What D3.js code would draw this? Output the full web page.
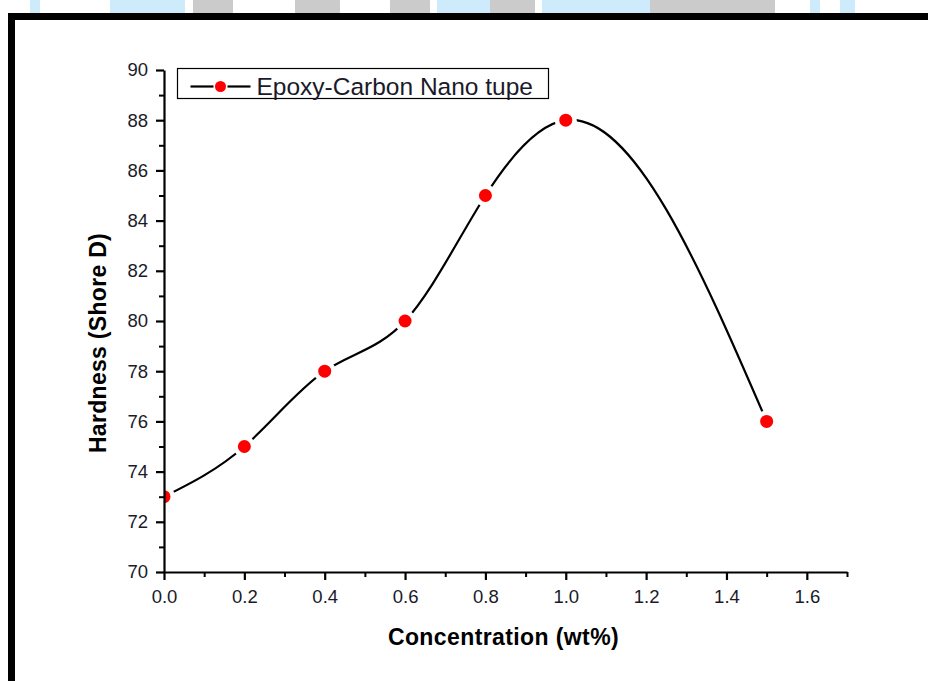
<!DOCTYPE html>
<html>
<head>
<meta charset="utf-8">
<script src="https://cdn.jsdelivr.net/npm/d3@7"></script>
<style>
  body { margin: 0; background: #fff; }
  svg text { font-family: "Liberation Sans", Arial, sans-serif; }
</style>
</head>
<body>
<div id="chart"></div>
<script>
// data
const concentration = [0, 0.2, 0.4, 0.6, 0.8, 1.0, 1.5];
const hardness = [73, 75, 78, 80, 85, 88, 76];
const seriesName = "Epoxy-Carbon Nano tupe";
const xTicks = [0, 0.2, 0.4, 0.6, 0.8, 1.0, 1.2, 1.4, 1.6];
const yTicks = [70, 72, 74, 76, 78, 80, 82, 84, 86, 88, 90];

const svgWidth = 928;
const svgHeight = 681;

const margin = { top: 70, right: 81, bottom: 109, left: 164 };
const width = svgWidth - margin.left - margin.right;
const height = svgHeight - margin.top - margin.bottom;

// natural cubic spline in x (like Origin's "Spline" connect), drawn as beziers
function curveSplineX(context) {
  let xs, ys;
  return {
    areaStart() {}, areaEnd() {},
    lineStart() { xs = []; ys = []; },
    point(x, y) { xs.push(+x); ys.push(+y); },
    lineEnd() {
      const n = xs.length - 1;
      if (n < 1) return;
      const h = d3.range(n).map(i => xs[i + 1] - xs[i]);
      // solve for second derivatives, M0 = Mn = 0
      const M = new Array(n + 1).fill(0);
      if (n > 1) {
        const a = [], b = [], c = [], r = [];
        for (let i = 1; i < n; i++) {
          a.push(h[i - 1]);
          b.push(2 * (h[i - 1] + h[i]));
          c.push(h[i]);
          r.push(6 * ((ys[i + 1] - ys[i]) / h[i] - (ys[i] - ys[i - 1]) / h[i - 1]));
        }
        const m = b.length;
        for (let i = 1; i < m; i++) {
          const w = a[i] / b[i - 1];
          b[i] -= w * c[i - 1];
          r[i] -= w * r[i - 1];
        }
        const sol = new Array(m);
        sol[m - 1] = r[m - 1] / b[m - 1];
        for (let i = m - 2; i >= 0; i--) sol[i] = (r[i] - c[i] * sol[i + 1]) / b[i];
        for (let i = 1; i < n; i++) M[i] = sol[i - 1];
      }
      const slope = d3.range(n + 1).map(i => i < n
        ? (ys[i + 1] - ys[i]) / h[i] - h[i] * (2 * M[i] + M[i + 1]) / 6
        : (ys[n] - ys[n - 1]) / h[n - 1] + h[n - 1] * (M[n - 1] + 2 * M[n]) / 6);
      context.moveTo(xs[0], ys[0]);
      for (let i = 0; i < n; i++) {
        const d = h[i] / 3;
        context.bezierCurveTo(xs[i] + d, ys[i] + slope[i] * d,
          xs[i + 1] - d, ys[i + 1] - slope[i + 1] * d,
          xs[i + 1], ys[i + 1]);
      }
    }
  };
}

const svg = d3.select("#chart")
  .append("svg")
  .attr("width", svgWidth)
  .attr("height", svgHeight);

// watermark strip above the frame (rough)
const strip = [
  [0, 30, "#fff"], [30, 40, "#cdebfb"], [40, 110, "#fff"], [110, 185, "#cdebfb"],
  [185, 193, "#fff"], [193, 233, "#cbcbcb"], [233, 295, "#fff"], [295, 340, "#cbcbcb"],
  [340, 390, "#fff"], [390, 430, "#cbcbcb"], [430, 437, "#fff"], [437, 490, "#cdebfb"],
  [490, 535, "#cbcbcb"], [535, 542, "#fff"], [542, 650, "#cdebfb"], [650, 775, "#cbcbcb"],
  [775, 810, "#fff"], [810, 820, "#cdebfb"], [820, 840, "#fff"], [840, 855, "#cdebfb"],
  [855, 928, "#fff"]
];
svg.selectAll("rect.strip")
  .data(strip)
  .enter().append("rect")
  .attr("class", "strip")
  .attr("x", d => d[0]).attr("y", 0)
  .attr("width", d => d[1] - d[0]).attr("height", 14)
  .attr("fill", d => d[2]);

// black frame
svg.append("rect")
  .attr("x", 11.5).attr("y", 16.5)
  .attr("width", 940).attr("height", 700)
  .attr("fill", "#fff")
  .attr("stroke", "#000")
  .attr("stroke-width", 7);

const chartGroup = svg.append("g")
  .attr("transform", `translate(${margin.left}, ${margin.top})`);

const xLinearScale = d3.scaleLinear().domain([0, 1.7]).range([0, width]);
const yLinearScale = d3.scaleLinear().domain([70, 90]).range([height, 0]);

const points = concentration.map((c, i) => ({ x: c, y: hardness[i] }));

chartGroup.append("clipPath").attr("id", "plotClip")
  .append("rect").attr("x", 0).attr("y", -10).attr("width", width).attr("height", height + 10);

const plot = chartGroup.append("g").attr("clip-path", "url(#plotClip)");

const line = d3.line()
  .x(d => xLinearScale(d.x))
  .y(d => yLinearScale(d.y))
  .curve(curveSplineX);

plot.append("path")
  .datum(points)
  .attr("d", line)
  .attr("fill", "none")
  .attr("stroke", "#000")
  .attr("stroke-width", 2.2);

// gaps in the line around the symbols
plot.selectAll("circle.gap")
  .data(points)
  .enter().append("circle")
  .attr("class", "gap")
  .attr("cx", d => xLinearScale(d.x))
  .attr("cy", d => yLinearScale(d.y))
  .attr("r", 11)
  .attr("fill", "#fff");

// axes
const bottomAxis = d3.axisBottom(xLinearScale)
  .tickValues(xTicks).tickFormat(d3.format(".1f"))
  .tickSizeInner(8).tickSizeOuter(0).tickPadding(10);
const leftAxis = d3.axisLeft(yLinearScale)
  .tickValues(yTicks).tickFormat(d3.format("d"))
  .tickSizeInner(8).tickSizeOuter(0).tickPadding(8);

const minorX = d3.range(1, 17, 2).map(v => v / 10).concat([1.7]);
const minorY = d3.range(71, 90, 2);

chartGroup.append("g")
  .attr("transform", `translate(0, ${height})`)
  .call(d3.axisBottom(xLinearScale).tickValues(minorX).tickSize(5).tickFormat(""))
  .call(g => g.selectAll("line").attr("stroke-width", 2))
  .call(g => g.select(".domain").remove());
chartGroup.append("g")
  .call(d3.axisLeft(yLinearScale).tickValues(minorY).tickSize(5).tickFormat(""))
  .call(g => g.selectAll("line").attr("stroke-width", 2))
  .call(g => g.select(".domain").remove());

const xAxis = chartGroup.append("g")
  .attr("transform", `translate(0, ${height})`)
  .call(bottomAxis);
const yAxis = chartGroup.append("g")
  .call(leftAxis);

[xAxis, yAxis].forEach(ax => {
  ax.select(".domain").attr("stroke-width", 2.2);
  ax.selectAll(".tick line").attr("stroke-width", 2.2);
  ax.selectAll(".tick text")
    .attr("fill", "#1a1a2a")
    .style("font-size", "18.5px")
    .style("font-family", "'Liberation Sans', Arial, sans-serif");
});

// symbols
plot.selectAll("circle.dot")
  .data(points)
  .enter().append("circle")
  .attr("class", "dot")
  .attr("cx", d => xLinearScale(d.x))
  .attr("cy", d => yLinearScale(d.y))
  .attr("r", 6.5)
  .attr("fill", "#ff0000");

// axis titles
chartGroup.append("text")
  .attr("x", width / 2 - 2)
  .attr("y", height + 73)
  .attr("text-anchor", "middle")
  .style("font-size", "23px")
  .style("font-weight", "bold")
  .style("letter-spacing", "0.4px")
  .text("Concentration (wt%)");

chartGroup.append("text")
  .attr("transform", `translate(${-58}, ${height / 2 + 22}) rotate(-90)`)
  .attr("text-anchor", "middle")
  .style("font-size", "23px")
  .style("font-weight", "bold")
  .style("letter-spacing", "0.3px")
  .text("Hardness (Shore D)");

// legend
const legend = svg.append("g").attr("transform", "translate(177.5, 68.5)");
legend.append("rect")
  .attr("width", 371).attr("height", 30)
  .attr("fill", "#fff").attr("stroke", "#000").attr("stroke-width", 1.2);
legend.append("line")
  .attr("x1", 13).attr("x2", 36).attr("y1", 18).attr("y2", 18)
  .attr("stroke", "#000").attr("stroke-width", 2.2);
legend.append("line")
  .attr("x1", 50).attr("x2", 73).attr("y1", 18).attr("y2", 18)
  .attr("stroke", "#000").attr("stroke-width", 2.2);
legend.append("circle")
  .attr("cx", 43).attr("cy", 18).attr("r", 5.5).attr("fill", "#ff0000");
legend.append("text")
  .attr("x", 79).attr("y", 26)
  .style("font-size", "24.5px")
  .attr("fill", "#1a1a2a")
  .text(seriesName);
</script>
</body>
</html>
